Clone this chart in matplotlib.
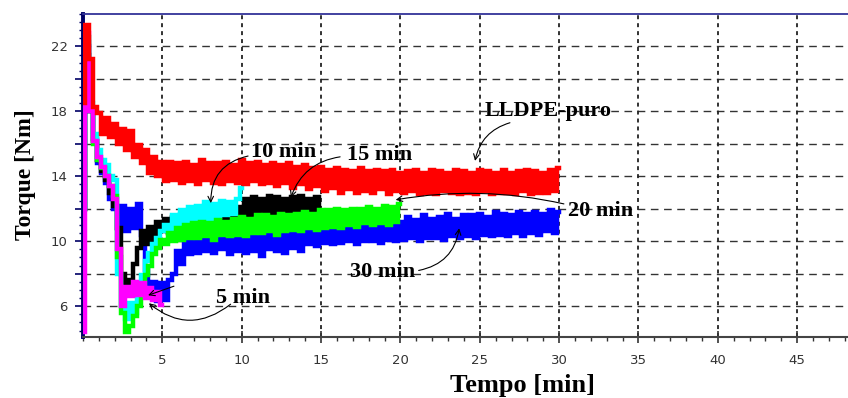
import numpy as np
import matplotlib
matplotlib.use('Agg')
import matplotlib.pyplot as plt
from matplotlib.ticker import MultipleLocator

# passo de amostragem [min]
sample_step = 0.25

# LLDPE puro (0 - 30 min)
torque_puro = [
    18.5, 23.3, 21.2, 18.3, 17.9, 16.6, 17.6, 16.4, 17.2, 16.0, 16.9, 15.6,
    16.8, 15.2, 15.9, 14.8, 15.6, 14.2, 15.2, 14.0, 14.9, 13.7, 14.9, 13.8, 14.8,
    13.6, 14.9, 13.7, 14.7, 13.5, 15.0, 13.8, 14.8,
    13.6, 14.8, 13.5, 14.9, 13.7, 14.7, 13.6, 15.0,
    13.5, 14.8, 13.7, 14.9, 13.5, 14.7, 13.6, 14.8,
    13.4, 14.7, 13.6, 14.8, 13.3, 14.6, 13.5, 14.7,
    13.2, 14.5, 13.4, 14.6, 13.1, 14.4, 13.3, 14.5,
    13.0, 14.4, 13.2, 14.3, 13.0, 14.5, 13.1, 14.3,
    13.0, 14.4, 13.2, 14.3, 12.9, 14.4, 13.1, 14.2,
    13.0, 14.3, 13.1, 14.4, 12.9, 14.2, 13.0, 14.4,
    12.9, 14.3, 13.1, 14.2, 13.0, 14.4, 12.9, 14.3,
    13.0, 14.2, 12.9, 14.4, 13.1, 14.3, 12.9, 14.2,
    13.0, 14.4, 13.0, 14.2, 12.9, 14.3, 13.1, 14.4,
    12.9, 14.3, 13.0, 14.2, 13.0, 14.4, 13.1, 14.5,
]

# 30 min
torque_30 = [
    12.0, 22.0, 18.0, 16.3, 14.8, 14.2, 13.6, 12.6, 12.0, 10.8, 12.2, 10.6,
    12.0, 10.8, 12.3, 10.4, 8.2, 6.6, 7.5, 6.3, 7.4, 6.4, 7.6, 8.0,
    9.4, 8.6, 10.0, 9.2, 10.3, 9.3, 10.4, 9.4, 10.5,
    9.3, 10.6, 9.5, 10.7, 9.2, 10.5, 9.4, 10.8,
    9.3, 10.6, 9.4, 10.8, 9.1, 10.7, 9.5, 10.6,
    9.4, 10.8, 9.3, 10.7, 9.6, 10.9, 9.4, 10.8,
    9.8, 11.0, 9.7, 11.2, 9.9, 10.9, 9.8, 11.1,
    9.9, 11.2, 10.0, 11.0, 9.8, 11.3, 10.0, 11.1,
    10.0, 11.3, 9.9, 11.2, 10.1, 11.4, 10.0, 11.2,
    10.1, 11.5, 10.2, 11.3, 10.0, 11.6, 10.2, 11.4,
    10.2, 11.5, 10.1, 11.7, 10.3, 11.4, 10.2, 11.6,
    10.3, 11.6, 10.2, 11.7, 10.4, 11.5, 10.3, 11.8,
    10.4, 11.7, 10.3, 11.6, 10.5, 11.8, 10.3, 11.7,
    10.5, 11.8, 10.4, 11.7, 10.6, 11.9, 10.5, 11.8,
]

# 15 min
torque_15 = [
    12.0, 21.5, 18.0, 16.2, 15.0, 14.3, 13.8, 13.0, 12.2, 10.8, 8.0, 7.3,
    7.6, 8.6, 9.6, 10.6, 9.8, 10.9, 9.9, 11.2, 10.6,
    11.4, 10.5, 11.5, 10.7, 11.6, 10.8, 11.7, 10.9,
    11.8, 10.9, 11.9, 11.0, 11.8, 11.1, 12.0, 11.2,
    11.9, 11.2, 12.1, 11.4, 12.6, 11.5, 12.7, 11.4,
    12.6, 11.5, 12.8, 11.4, 12.7, 11.6, 12.6, 11.5,
    12.7, 11.6, 12.8, 11.5, 12.6, 11.7, 12.7, 11.8,
]

# 10 min
torque_10 = [
    12.0, 22.3, 18.5, 16.6, 15.6, 15.0, 14.7, 14.0, 13.8, 8.0, 6.0, 5.2,
    6.2, 5.6, 7.0, 7.9, 8.8, 9.3, 9.8, 10.2, 10.6,
    11.0, 10.6, 11.6, 11.0, 11.9, 11.2, 12.1, 11.3,
    12.2, 11.4, 12.4, 11.3, 12.3, 11.5, 12.5, 11.6,
    12.4, 11.7, 12.6, 13.3,
]

# 20 min
torque_20 = [
    12.0, 22.6, 18.2, 16.0, 15.0, 14.5, 14.0, 13.4, 12.8, 9.0, 5.6, 4.4,
    4.8, 5.4, 6.0, 7.0, 7.9, 8.5, 9.2, 9.6, 10.1,
    9.8, 10.5, 10.0, 10.8, 10.1, 11.0, 10.2, 11.1,
    10.2, 11.2, 10.3, 11.1, 10.1, 11.3, 10.4, 11.2,
    10.3, 11.4, 10.4, 11.5, 10.3, 11.4, 10.5, 11.6,
    10.5, 11.6, 10.6, 11.5, 10.4, 11.7, 10.6, 11.6,
    10.7, 11.7, 10.6, 11.8, 10.8, 11.7, 10.7, 11.9,
    10.8, 11.9, 10.9, 12.0, 10.8, 11.9, 11.0, 12.0,
    10.9, 12.0, 11.1, 12.1, 11.0, 12.0, 11.1, 12.2,
    11.0, 12.1, 11.2, 12.3,
]

# 5 min
torque_5 = [
    4.4, 22.8, 18.0, 16.2, 15.2, 14.6, 14.0, 13.4, 12.6, 9.5, 6.0, 7.2,
    6.6, 7.5, 6.7, 7.4, 6.5, 7.1, 6.4, 6.9, 6.1,
]

x_tick_values = [5, 10, 15, 20, 25, 30, 35, 40, 45]
y_tick_values = [6, 8, 10, 12, 14, 16, 18, 20, 22]
y_tick_labels = ['6', '', '10', '', '14', '', '18', '', '22']


def tempo(values):
    return np.arange(len(values)) * sample_step


fig = plt.figure(figsize=(8.48, 3.98), dpi=100)
ax = fig.add_axes([83 / 848, 1 - 337 / 398, 765 / 848, 323 / 398])

# ordem de desenho: de baixo para cima
series = [
    (torque_30, '#0000ff'),
    (torque_15, '#000000'),
    (torque_10, '#00ffff'),
    (torque_20, '#00ff00'),
    (torque_5, '#ff00ff'),
    (torque_puro, '#ff0000'),
]
for values, color in series:
    ax.plot(tempo(values), values, color=color, lw=3.2, zorder=3,
            drawstyle='steps-mid', solid_joinstyle='miter')

ax.set_xlim(0, 48.2)
ax.set_ylim(4.1, 24.0)

ax.set_xticks(x_tick_values)
ax.set_xticklabels([str(v) for v in x_tick_values])
ax.xaxis.set_minor_locator(MultipleLocator(1))
ax.set_yticks(y_tick_values)
ax.set_yticklabels(y_tick_labels)
ax.yaxis.set_minor_locator(MultipleLocator(0.5))

ax.tick_params(axis='x', which='major', direction='inout', length=9, width=1.2,
               color='#333333', labelsize=9.5, labelcolor='#333333', pad=8)
ax.tick_params(axis='x', which='minor', direction='out', length=3, width=1.0,
               color='#333333')
ax.tick_params(axis='y', which='major', direction='out', length=6, width=1.2,
               color='#000066', labelsize=9.5, labelcolor='#333333', pad=5)
ax.tick_params(axis='y', which='minor', direction='out', length=3, width=1.0,
               color='#000066')

# grade
for v in y_tick_values:
    ax.axhline(v, color='#333333', lw=1.0, ls=(0, (5.5, 4)), zorder=1)
for v in x_tick_values:
    ax.axvline(v, color='#222222', lw=1.3, ls=(0, (2.2, 2.2)), zorder=1)

ax.spines['right'].set_visible(False)
ax.spines['left'].set_color('#000066')
ax.spines['left'].set_linewidth(2.8)
ax.spines['top'].set_color('#333399')
ax.spines['top'].set_linewidth(1.3)
ax.spines['bottom'].set_color('#444444')
ax.spines['bottom'].set_linewidth(1.5)

ax.set_xlabel('Tempo [min]', fontsize=19, fontweight='bold',
              family='Liberation Serif', va='center')
ax.xaxis.set_label_coords(0.574, -0.149)
ax.set_ylabel('Torque [Nm]', fontsize=17, fontweight='bold',
              family='Liberation Serif', va='center', ha='center')
ax.yaxis.set_label_coords(-0.0758, 0.5015)

# anotacoes
txt = dict(fontsize=16, fontweight='bold', family='Liberation Serif',
           ha='center', va='center', zorder=5)
arrow = dict(arrowstyle='->', color='black', lw=0.8, mutation_scale=10,
             shrinkA=0, shrinkB=0)

ax.text(29.3, 18.0, 'LLDPE-puro', **txt)
ax.annotate('', xy=(24.7, 14.95), xytext=(26.9, 17.3),
            arrowprops=dict(connectionstyle='arc3,rad=0.3', **arrow))

ax.text(12.65, 15.5, '10 min', **txt)
ax.annotate('', xy=(8.05, 12.35), xytext=(10.4, 15.25),
            arrowprops=dict(connectionstyle='arc3,rad=0.4', **arrow))

ax.text(18.7, 15.3, '15 min', **txt)
ax.annotate('', xy=(13.1, 12.7), xytext=(16.2, 15.2),
            arrowprops=dict(connectionstyle='arc3,rad=0.3', **arrow))

ax.text(32.6, 11.85, '20 min', **txt)
ax.annotate('', xy=(19.7, 12.55), xytext=(30.3, 12.3),
            arrowprops=dict(connectionstyle='arc3,rad=0.1', **arrow))

ax.text(18.9, 8.1, '30 min', **txt)
ax.annotate('', xy=(23.7, 10.8), xytext=(21.15, 8.2),
            arrowprops=dict(connectionstyle='arc3,rad=0.35', **arrow))

ax.text(10.1, 6.5, '5 min', **txt)
ax.annotate('', xy=(4.15, 6.18), xytext=(9.3, 6.12),
            arrowprops=dict(connectionstyle='arc3,rad=-0.4', **arrow))
ax.annotate('', xy=(4.1, 6.67), xytext=(5.73, 7.23),
            arrowprops=dict(connectionstyle='arc3,rad=0', **arrow))

fig.savefig('out.png', dpi=100)
